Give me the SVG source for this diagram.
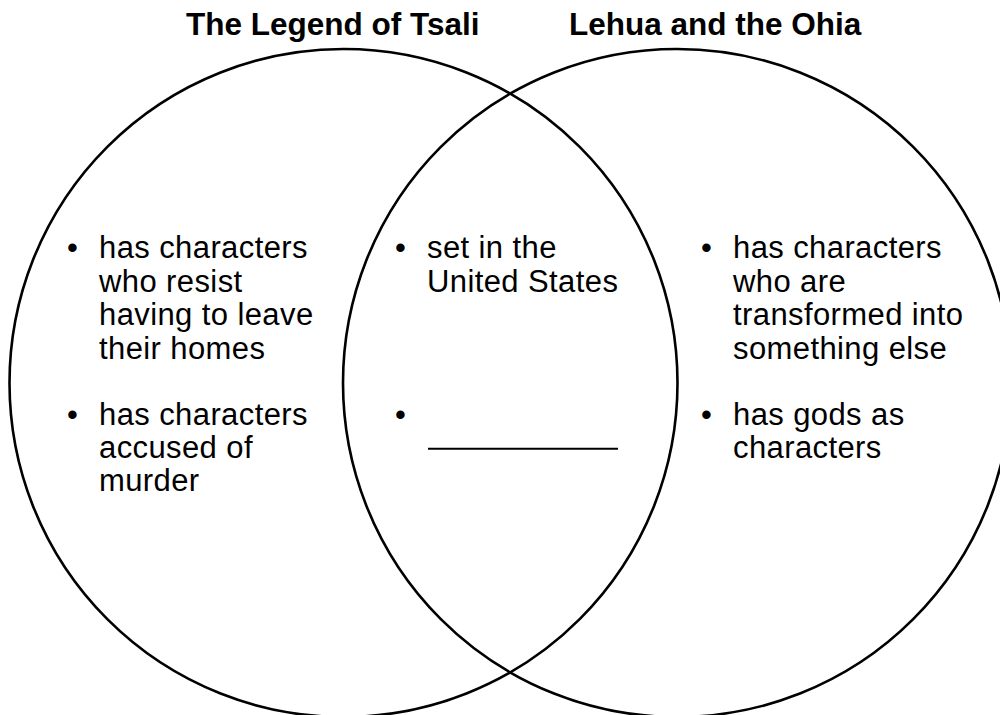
<svg xmlns="http://www.w3.org/2000/svg" width="1000" height="715" viewBox="0 0 1000 715">
<style>
.c{fill:none;stroke:#000;stroke-width:2.6}
.t{font-family:"Liberation Sans",Arial,sans-serif;font-weight:bold;font-size:31.5px;fill:#000}
.b{font-family:"Liberation Sans",Arial,sans-serif;font-size:31px;letter-spacing:0.4px;fill:#000}
</style>
<rect width="1000" height="715" fill="#fff"/>
<g id="left-set">
<circle class="c" cx="343.5" cy="383" r="334"/>
<text class="t" x="186" y="35">The Legend of Tsali</text>
</g>
<g id="right-set">
<circle class="c" cx="677" cy="383" r="334"/>
<text class="t" x="569" y="35">Lehua and the Ohia</text>
</g>
<g id="left-items" class="b">
<text x="67" y="258">•</text>
<text x="99" y="258">has characters</text>
<text x="99" y="291.5">who resist</text>
<text x="99" y="325">having to leave</text>
<text x="99" y="358.5">their homes</text>
<text x="67" y="425">•</text>
<text x="99" y="425">has characters</text>
<text x="99" y="458">accused of</text>
<text x="99" y="491">murder</text>
</g>
<g id="middle-items" class="b">
<text x="395" y="258">•</text>
<text x="427" y="258">set in the</text>
<text x="427" y="291.5">United States</text>
<text x="395" y="425">•</text>
<line x1="428" y1="448.7" x2="618" y2="448.7" stroke="#000" stroke-width="2"/>
</g>
<g id="right-items" class="b">
<text x="701" y="258">•</text>
<text x="733" y="258">has characters</text>
<text x="733" y="291.5">who are</text>
<text x="733" y="325">transformed into</text>
<text x="733" y="358.5">something else</text>
<text x="701" y="425">•</text>
<text x="733" y="425">has gods as</text>
<text x="733" y="458">characters</text>
</g>
</svg>
